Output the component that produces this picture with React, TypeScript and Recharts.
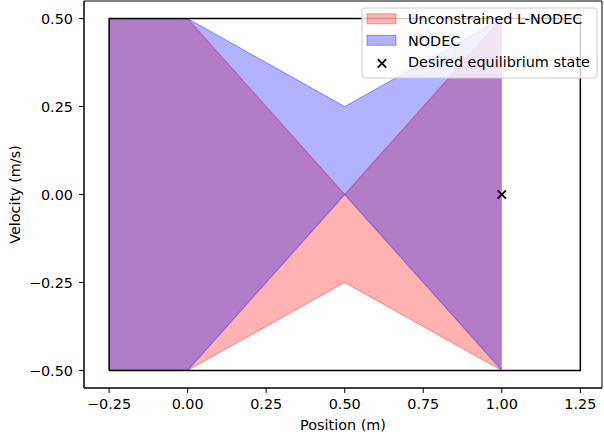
import React from 'react';
import { ComposedChart, Area, Scatter, XAxis, YAxis, ReferenceArea } from 'recharts';

// ---- data ----
const positions = [-0.25, 0, 0.5, 1];
const unconstrainedLow = [-0.5, -0.5, -0.25, -0.5];
const unconstrainedHigh = [0.5, 0.5, 0, 0.5];
const nodecLow = [-0.5, -0.5, 0, -0.5];
const nodecHigh = [0.5, 0.5, 0.25, 0.5];

const boundsX = [-0.25, 1.25, 1.25, -0.25, -0.25];
const boundsY = [-0.5, -0.5, 0.5, 0.5, -0.5];

const equilibriumX = [1];
const equilibriumY = [0];

const xTicks = [-0.25, 0, 0.25, 0.5, 0.75, 1, 1.25];
const yTicks = [-0.5, -0.25, 0, 0.25, 0.5];
const xDomain = [-0.33, 1.319];
const yDomain = [-0.55, 0.55];

const seriesNames = ['Unconstrained L-NODEC', 'NODEC', 'Desired equilibrium state'];

const chartData = positions.map((x, i) => ({
  x,
  red: [unconstrainedLow[i], unconstrainedHigh[i]],
  blue: [nodecLow[i], nodecHigh[i]],
}));
const boundsData = boundsX.map((x, i) => ({ x, y: boundsY[i] }));
const eqData = equilibriumX.map((x, i) => ({ x, y: equilibriumY[i] }));

const FONT = 'DejaVu Sans, sans-serif';
const FS = 14.4;

const fmt = (v: number) => v.toFixed(2).replace('-', '\u2212');

const XMark = (props: any) => {
  const { cx, cy } = props;
  if (cx == null || cy == null) return <g />;
  const r = 4.2;
  return (
    <g>
      <line x1={cx - r} y1={cy - r} x2={cx + r} y2={cy + r} stroke="#000" strokeWidth={1.8} />
      <line x1={cx - r} y1={cy + r} x2={cx + r} y2={cy - r} stroke="#000" strokeWidth={1.8} />
    </g>
  );
};

const NoShape = () => <g />;

const YLabel = (props: any) => {
  const vb = props.viewBox || {};
  const cy = (vb.y ?? 1) + (vb.height ?? 387) / 2;
  const x = 19.5;
  return (
    <text x={x} y={cy} transform={`rotate(-90 ${x} ${cy})`} textAnchor="middle" fill="#000" fontSize={FS} fontFamily={FONT}>
      Velocity (m/s)
    </text>
  );
};

const XLabel = (props: any) => {
  const vb = props.viewBox || {};
  const cx = (vb.x ?? 84) + (vb.width ?? 518) / 2;
  return (
    <text x={cx} y={429.5} textAnchor="middle" fill="#000" fontSize={FS} fontFamily={FONT}>
      Position (m)
    </text>
  );
};

const LegendBox = () => {
  const rows = [17.2, 38.8, 60.4];
  return (
    <svg
      width={237}
      height={72}
      style={{ position: 'absolute', left: 361, top: 7, overflow: 'visible' }}
    >
      <rect x={1} y={1} width={235} height={70} rx={3} ry={3} fill="rgba(255,255,255,0.8)" stroke="#cccccc" strokeWidth={1} />
      <rect x={6} y={rows[0] - 10.5} width={29} height={10} fill="rgba(255,0,0,0.3)" stroke="rgba(255,0,0,0.3)" strokeWidth={1.2} />
      <rect x={6} y={rows[1] - 10.5} width={29} height={10} fill="rgba(0,0,255,0.3)" stroke="rgba(0,0,255,0.3)" strokeWidth={1.2} />
      <XMark cx={21} cy={rows[2] - 4} />
      {seriesNames.map((n, i) => (
        <text key={n} x={47} y={rows[i]} fill="#000" fontSize={FS} fontFamily={FONT}>
          {n}
        </text>
      ))}
    </svg>
  );
};

export default function App() {
  return (
    <div style={{ position: 'fixed', left: 0, top: 0, width: 604, height: 438, background: '#fff', fontFamily: FONT }}>
      <ComposedChart
        width={604}
        height={438}
        data={chartData}
        margin={{ top: 1, right: 2, bottom: 0, left: 0 }}
      >
        <XAxis
          dataKey="x"
          type="number"
          domain={xDomain}
          ticks={xTicks}
          allowDataOverflow
          height={50}
          tickFormatter={fmt}
          tickSize={5}
          tickMargin={6}
          axisLine={{ stroke: '#000', strokeWidth: 1 }}
          tickLine={{ stroke: '#000', strokeWidth: 1 }}
          tick={{ fill: '#000', fontSize: FS, fontFamily: FONT }}
          label={<XLabel />}
        />
        <YAxis
          type="number"
          domain={yDomain}
          ticks={yTicks}
          allowDataOverflow
          width={84}
          tickFormatter={fmt}
          tickSize={5}
          tickMargin={6}
          axisLine={{ stroke: '#000', strokeWidth: 1 }}
          tickLine={{ stroke: '#000', strokeWidth: 1 }}
          tick={{ fill: '#000', fontSize: FS, fontFamily: FONT }}
          label={<YLabel />}
        />
        <ReferenceArea
          x1={xDomain[0]}
          x2={xDomain[1]}
          y1={yDomain[0]}
          y2={yDomain[1]}
          fill="none"
          fillOpacity={0}
          stroke="#000"
          strokeWidth={1}
          ifOverflow="visible"
        />
        <Scatter
          data={boundsData}
          dataKey="y"
          line={{ stroke: '#000', strokeWidth: 1.5 }}
          lineType="joint"
          shape={NoShape}
          isAnimationActive={false}
          legendType="none"
        />
        <Area
          type="linear"
          dataKey="red"
          fill="#ff0000"
          fillOpacity={0.3}
          stroke="#ff0000"
          strokeOpacity={0.3}
          strokeWidth={1.2}
          isAnimationActive={false}
          dot={false}
          activeDot={false}
        />
        <Area
          type="linear"
          dataKey="blue"
          fill="#0000ff"
          fillOpacity={0.3}
          stroke="#0000ff"
          strokeOpacity={0.3}
          strokeWidth={1.2}
          isAnimationActive={false}
          dot={false}
          activeDot={false}
        />
        <Scatter data={eqData} dataKey="y" shape={XMark} isAnimationActive={false} />
      </ComposedChart>
      <LegendBox />
    </div>
  );
}
